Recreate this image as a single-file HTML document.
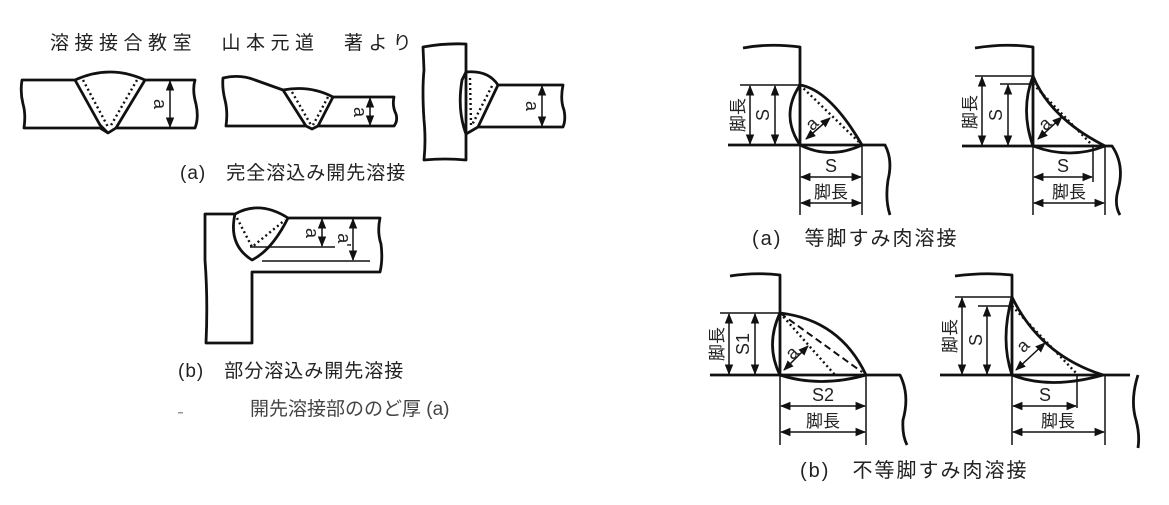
<!DOCTYPE html>
<html><head><meta charset="utf-8"><style>
html,body{margin:0;padding:0;background:#fff;}
svg{display:block;}
text{font-family:"Liberation Sans","Noto Sans CJK JP",sans-serif;fill:#222;}
</style></head><body>
<svg width="1169" height="505" viewBox="0 0 1169 505" xmlns="http://www.w3.org/2000/svg">
<defs>
<marker id="ar" viewBox="0 0 10 10" refX="9" refY="5" markerWidth="7" markerHeight="7" orient="auto-start-reverse"><path d="M0,1 L10,5 L0,9 z" fill="#111"/></marker>
</defs>
<text x="50" y="49" font-size="19" letter-spacing="5.5">溶接接合教室　山本元道　著より</text>

<g fill="none" stroke="#111" stroke-width="2.8" stroke-linejoin="round">
<path d="M22,80 L75,80 Q110,64 145,80 L195,80 Q192,90 196,104 Q199,118 195,128 L116,128 L108,133 L100,128 L24,128 Q26,114 23,104 Q20,92 22,80 Z"/>
<path d="M75,80 L100,125 L108,133 M145,80 L116,128"/>
<path d="M223,78 Q240,74 255,80 L283,90 Q310,85 333,97 L394,97 Q392,106 396,114 Q398,121 394,126 L318,126 L312,129 L306,126 L226,126 Q228,112 225,100 Q222,88 223,78 Z"/>
<path d="M283,90 L306,126 M333,97 L318,126"/>
<path d="M423,47 Q445,43 466,44 L466,160 Q445,158 424,160 Q426,140 424,120 Q422,90 424,70 Z"/>
<path d="M466,72 Q488,70 498,85 L563,85 Q560,100 564,110 Q566,120 563,127 L478,127 L466,134 Q457,110 462,80 Z"/>
<path d="M498,85 L478,127"/>
<path d="M205,214 L235,214 Q260,200 288,218 L380,218 Q377,232 381,244 Q383,260 380,272 L252,272 L252,343 L206,343 Q208,300 205,260 Z"/>
<path d="M235,214 Q228,245 252,260 Q272,250 288,218"/>
<path d="M743,48 Q770,43 800,47 L800,145 M728,145 L885,145 Q893,160 888,180 Q885,200 890,215"/>
<path d="M800,85 Q830,90 862,145 Q830,160 800,145 Q780,115 800,85"/>
<path d="M975,48 Q1005,43 1033,47 L1033,146 M962,146 L1112,146 Q1125,165 1118,190 Q1114,205 1120,215"/>
<path d="M1033,76 Q1050,118 1105,146 Q1070,160 1033,146 Q1020,110 1033,76"/>
<path d="M730,276 Q755,272 780,275 L780,375 M710,375 L900,375 Q910,395 903,420 Q902,435 907,445"/>
<path d="M780,313 Q840,320 866,375 Q820,388 780,375 Q765,345 780,313"/>
<path d="M955,276 Q985,272 1012,275 L1012,375 M940,375 L1130,375 M1138,375 Q1130,400 1136,420 Q1140,435 1138,448"/>
<path d="M1012,297 Q1040,355 1103,375 Q1050,390 1012,375 Q1000,340 1012,297"/>
</g>

<g fill="none" stroke="#111" stroke-width="2.4" stroke-dasharray="2,3">
<path d="M83,80 L108,127 M137,80 L110,127"/>
<path d="M292,92 L311,125 M328,97 L313,125"/>
<path d="M470,78 L471,125 M492,86 L472,125"/>
<path d="M237,218 L252,247 L285,220"/>
<path d="M800,85 L862,145"/>
<path d="M1033,84 L1093,146"/>
<path d="M780,313 L835,375"/>
<path d="M1012,306 L1078,375"/>
</g>
<path d="M780,313 L862,372" fill="none" stroke="#111" stroke-width="2" stroke-dasharray="7,4"/>

<g fill="none" stroke="#111" stroke-width="1.5">
<path d="M170,81 L170,127" marker-start="url(#ar)" marker-end="url(#ar)"/>
<path d="M370,98 L370,125" marker-start="url(#ar)" marker-end="url(#ar)"/>
<path d="M542,86 L542,126" marker-start="url(#ar)" marker-end="url(#ar)"/>
<path d="M250,247 L335,247 M262,261 L370,261"/>
<path d="M322,219 L322,246" marker-start="url(#ar)" marker-end="url(#ar)"/>
<path d="M353,219 L353,260" marker-start="url(#ar)" marker-end="url(#ar)"/>
<path d="M740,85 L800,85 M800,145 L800,215 M862,145 L862,215"/>
<path d="M750,86 L750,144" marker-start="url(#ar)" marker-end="url(#ar)"/>
<path d="M775,86 L775,144" marker-start="url(#ar)" marker-end="url(#ar)"/>
<path d="M801,177 L861,177" marker-start="url(#ar)" marker-end="url(#ar)"/>
<path d="M801,203 L861,203" marker-start="url(#ar)" marker-end="url(#ar)"/>
<path d="M806,139 L830,118" marker-start="url(#ar)" marker-end="url(#ar)"/>
<path d="M975,76 L1033,76 M1000,84 L1033,84 M1033,146 L1033,215 M1093,146 L1093,182 M1105,146 L1105,215"/>
<path d="M982,77 L982,145" marker-start="url(#ar)" marker-end="url(#ar)"/>
<path d="M1008,85 L1008,145" marker-start="url(#ar)" marker-end="url(#ar)"/>
<path d="M1034,177 L1092,177" marker-start="url(#ar)" marker-end="url(#ar)"/>
<path d="M1034,203 L1104,203" marker-start="url(#ar)" marker-end="url(#ar)"/>
<path d="M1038,139 L1062,117" marker-start="url(#ar)" marker-end="url(#ar)"/>
<path d="M720,313 L780,313 M780,375 L780,445 M866,375 L866,445"/>
<path d="M729,314 L729,374" marker-start="url(#ar)" marker-end="url(#ar)"/>
<path d="M755,314 L755,374" marker-start="url(#ar)" marker-end="url(#ar)"/>
<path d="M781,406 L865,406" marker-start="url(#ar)" marker-end="url(#ar)"/>
<path d="M781,432 L865,432" marker-start="url(#ar)" marker-end="url(#ar)"/>
<path d="M784,370 L808,346" marker-start="url(#ar)" marker-end="url(#ar)"/>
<path d="M955,297 L1012,297 M978,306 L1012,306 M1012,375 L1012,445 M1077,375 L1077,408 M1105,375 L1105,445"/>
<path d="M962,298 L962,374" marker-start="url(#ar)" marker-end="url(#ar)"/>
<path d="M987,307 L987,374" marker-start="url(#ar)" marker-end="url(#ar)"/>
<path d="M1013,406 L1076,406" marker-start="url(#ar)" marker-end="url(#ar)"/>
<path d="M1013,432 L1104,432" marker-start="url(#ar)" marker-end="url(#ar)"/>
<path d="M1016,370 L1045,343" marker-start="url(#ar)" marker-end="url(#ar)"/>
</g>

<g font-size="18">
<text transform="translate(154,104) rotate(90)" text-anchor="middle">a</text>
<text transform="translate(354,112) rotate(90)" text-anchor="middle">a</text>
<text transform="translate(526,106) rotate(90)" text-anchor="middle">a</text>
<text transform="translate(306,233) rotate(90)" text-anchor="middle">a</text>
<text transform="translate(338,240) rotate(90)" text-anchor="middle">a'</text>
<text transform="translate(744,115) rotate(-90)" text-anchor="middle" font-size="17">脚長</text>
<text transform="translate(769,115) rotate(-90)" text-anchor="middle">S</text>
<text transform="translate(816,128) rotate(-45)" text-anchor="middle">a</text>
<text x="831" y="172" text-anchor="middle">S</text>
<text x="831" y="198" text-anchor="middle" font-size="17">脚長</text>
<text transform="translate(976,112) rotate(-90)" text-anchor="middle" font-size="17">脚長</text>
<text transform="translate(1002,115) rotate(-90)" text-anchor="middle">S</text>
<text transform="translate(1049,128) rotate(-45)" text-anchor="middle">a</text>
<text x="1063" y="172" text-anchor="middle">S</text>
<text x="1069" y="198" text-anchor="middle" font-size="17">脚長</text>
<text transform="translate(723,344) rotate(-90)" text-anchor="middle" font-size="17">脚長</text>
<text transform="translate(749,344) rotate(-90)" text-anchor="middle">S1</text>
<text transform="translate(796,357) rotate(-45)" text-anchor="middle">a</text>
<text x="823" y="401" text-anchor="middle">S2</text>
<text x="823" y="427" text-anchor="middle" font-size="17">脚長</text>
<text transform="translate(956,336) rotate(-90)" text-anchor="middle" font-size="17">脚長</text>
<text transform="translate(982,340) rotate(-90)" text-anchor="middle">S</text>
<text transform="translate(1027,350) rotate(-45)" text-anchor="middle">a</text>
<text x="1045" y="401" text-anchor="middle">S</text>
<text x="1058" y="427" text-anchor="middle" font-size="17">脚長</text>
</g>

<g font-size="19">
<text x="180" y="179" letter-spacing="1">(a)　完全溶込み開先溶接</text>
<text x="178" y="377" letter-spacing="1">(b)　部分溶込み開先溶接</text>
<text x="250" y="415" style="fill:#444">開先溶接部ののど厚 (a)</text>
<text x="752" y="245" font-size="20" letter-spacing="2">(a)　等脚すみ肉溶接</text>
<text x="800" y="477" font-size="20" letter-spacing="2">(b)　不等脚すみ肉溶接</text>
</g>
<rect x="178" y="412" width="5" height="1.5" fill="#999"/>
</svg>
</body></html>
